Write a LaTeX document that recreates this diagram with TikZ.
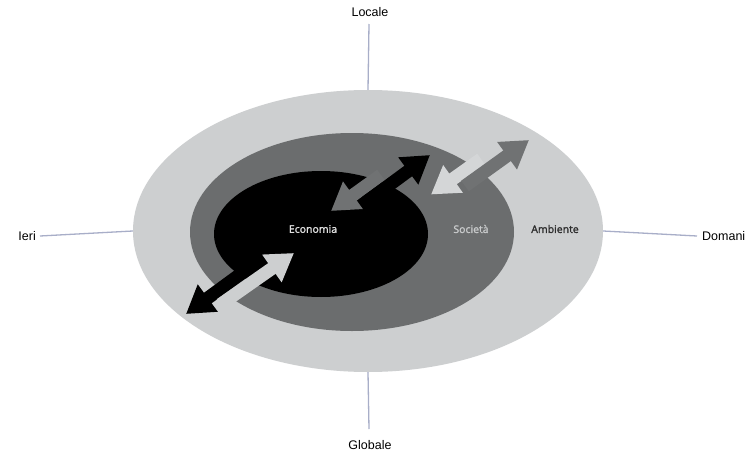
\documentclass[tikz,border=0pt]{standalone}
\usepackage{fontspec}
\setmainfont{Liberation Sans}
\newfontfamily\innerfont[FakeBold=1.6]{Open Sans}
\usetikzlibrary{shapes.geometric,arrows.meta}
\definecolor{ringlight}{RGB}{205,207,208}
\definecolor{ringdark}{RGB}{107,109,110}
\definecolor{arrlight}{RGB}{212,214,215}
\definecolor{arrgray}{RGB}{112,114,115}
\definecolor{axisc}{RGB}{168,174,200}
\definecolor{econtext}{RGB}{225,225,225}
\definecolor{soctext}{RGB}{200,202,203}
\definecolor{ambtext}{RGB}{45,45,45}
\tikzset{
  blob/.style={ellipse,inner sep=0pt,draw=none},
  axisline/.style={draw=axisc,line width=1.3pt},
  outerlabel/.style={font=\fontsize{12.5}{14}\selectfont,inner sep=1pt},
  innerlabel/.style={font=\innerfont\fontsize{10.5}{12}\selectfont,inner sep=0pt},
  fatarrow/.style={line width=13pt,-{Triangle[width=32pt,length=27pt]}}
}
\begin{document}
\begin{tikzpicture}[x=1pt,y=-1pt]
\useasboundingbox (0,0) rectangle (755,455);
\fill[white] (0,0) rectangle (755,455);
% ellipses
\node[blob,fill=ringlight,minimum width=470pt,minimum height=282pt] (amb) at (368,231) {};
\node[blob,fill=ringdark,minimum width=324pt,minimum height=198pt] (soc) at (352,232) {};
\node[blob,fill=black,minimum width=214pt,minimum height=126pt] (eco) at (321,234) {};
% labels
\node[innerlabel,text=econtext] (econ) at (313,229) {Economia};
\node[innerlabel,text=soctext] (socl) at (471,229) {Società};
\node[innerlabel,text=ambtext] (ambl) at (555,229) {Ambiente};
% outer labels
\node[outerlabel] (locale) at (370,12) {Locale};
\node[outerlabel] (globale) at (370,445) {Globale};
\node[outerlabel,anchor=east] (ieri) at (37,236) {Ieri};
\node[outerlabel,anchor=west] (domani) at (701,236) {Domani};
% axis connectors
\coordinate (lt) at (369,24);
\coordinate (gb) at (369,429);
\coordinate (il) at (40,236);
\coordinate (dr) at (697,236);
\draw[axisline] (lt) -- (amb.north);
\draw[axisline] (amb.south) -- (gb);
\draw[axisline] (il) -- (amb.west);
\draw[axisline] (amb.east) -- (dr);
% arrow pair 1 (economia - ambiente)
\coordinate (a1s) at (242.0,273.0);
\coordinate (a1t) at (186.0,314.0);
\coordinate (b1s) at (220.5,304.5);
\coordinate (b1t) at (294.0,253.0);
\draw[fatarrow,draw=black,color=black] (a1s) -- (a1t);
\draw[fatarrow,draw=ringlight,color=ringlight] (b1s) -- (b1t);
% arrow pair 2 (economia - societa)
\coordinate (a2s) at (381.0,175.0);
\coordinate (a2t) at (331.0,211.0);
\coordinate (b2s) at (365.5,202.5);
\coordinate (b2t) at (430.0,155.0);
\draw[fatarrow,draw=arrgray,color=arrgray] (a2s) -- (a2t);
\draw[fatarrow,draw=black,color=black] (b2s) -- (b2t);
% arrow pair 3 (societa - ambiente)
\coordinate (a3s) at (481.0,159.0);
\coordinate (a3t) at (431.0,194.5);
\coordinate (b3s) at (465.0,186.0);
\coordinate (b3t) at (529.0,140.0);
\draw[fatarrow,draw=arrlight,color=arrlight] (a3s) -- (a3t);
\draw[fatarrow,draw=arrgray,color=arrgray] (b3s) -- (b3t);
\end{tikzpicture}
\end{document}
